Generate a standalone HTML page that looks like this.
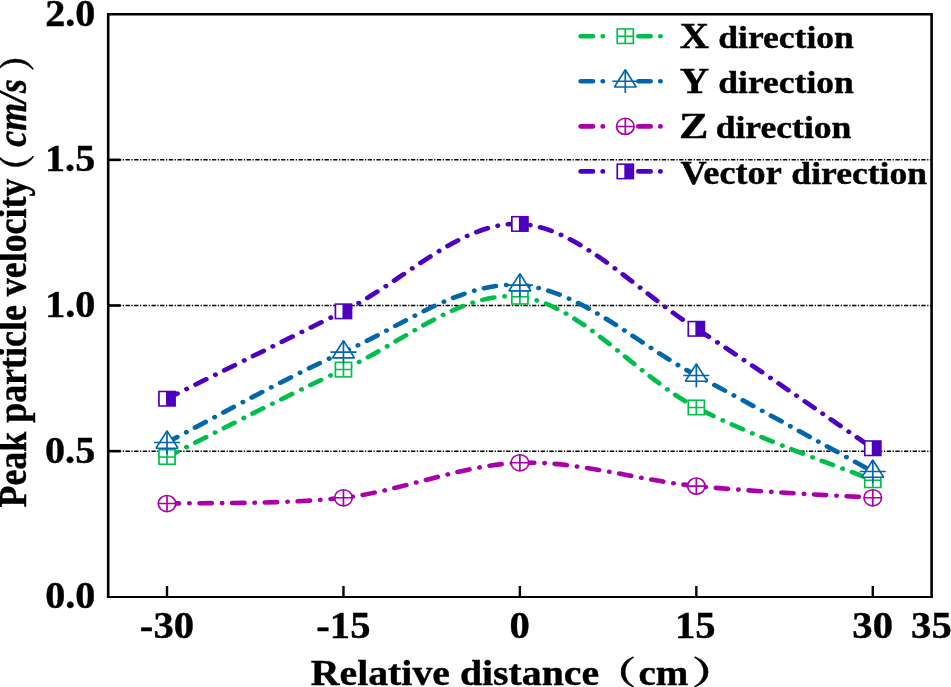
<!DOCTYPE html>
<html><head><meta charset="utf-8"><title>Peak particle velocity</title>
<style>
html,body{margin:0;padding:0;background:#fff;}
body{width:951px;height:687px;overflow:hidden;}
svg{display:block;}
.t{font-family:"Liberation Serif","Noto Serif CJK SC",serif;font-weight:bold;fill:#000;stroke:#000;stroke-width:0.4px;}
.cj{font-family:"Noto Serif CJK SC","Liberation Serif",serif;font-weight:bold;fill:#000;}
</style></head><body>
<svg width="951" height="687" viewBox="0 0 951 687">
<rect width="951" height="687" fill="#fff"/>
<line x1="108.2" y1="451.15" x2="931.6" y2="451.15" stroke="#000" stroke-width="1.5" stroke-dasharray="4.35 1.5 1.3 1.5"/>
<line x1="108.2" y1="305.50" x2="931.6" y2="305.50" stroke="#000" stroke-width="1.5" stroke-dasharray="4.35 1.5 1.3 1.5"/>
<line x1="108.2" y1="159.85" x2="931.6" y2="159.85" stroke="#000" stroke-width="1.5" stroke-dasharray="4.35 1.5 1.3 1.5"/>
<g transform="scale(1.095,1)">
<path d="M152.52,456.98 C179.38,442.41 259.95,396.29 313.66,369.59 C367.37,342.88 421.08,290.45 474.79,296.76 C528.51,303.07 582.22,376.87 635.93,407.45 C689.64,438.04 770.21,468.14 797.06,480.28" fill="none" stroke="#00BE4B" stroke-width="4.6" stroke-linecap="round" stroke-dasharray="10.9 9.6 0.01 9.36"/>
<rect x="145.17" y="449.73" width="14.7" height="14.5" fill="#fff" stroke="#00BE4B" stroke-width="1.55"/><path d="M145.17,456.98H159.87M152.52,449.73V464.23" stroke="#00BE4B" stroke-width="1.55" fill="none"/>
<rect x="306.31" y="362.34" width="14.7" height="14.5" fill="#fff" stroke="#00BE4B" stroke-width="1.55"/><path d="M306.31,369.59H321.01M313.66,362.34V376.84" stroke="#00BE4B" stroke-width="1.55" fill="none"/>
<rect x="467.44" y="289.51" width="14.7" height="14.5" fill="#fff" stroke="#00BE4B" stroke-width="1.55"/><path d="M467.44,296.76H482.14M474.79,289.51V304.01" stroke="#00BE4B" stroke-width="1.55" fill="none"/>
<rect x="628.58" y="400.20" width="14.7" height="14.5" fill="#fff" stroke="#00BE4B" stroke-width="1.55"/><path d="M628.58,407.45H643.28M635.93,400.20V414.70" stroke="#00BE4B" stroke-width="1.55" fill="none"/>
<rect x="789.71" y="473.03" width="14.7" height="14.5" fill="#fff" stroke="#00BE4B" stroke-width="1.55"/><path d="M789.71,480.28H804.41M797.06,473.03V487.53" stroke="#00BE4B" stroke-width="1.55" fill="none"/>
<path d="M152.52,442.41 C179.38,427.36 259.95,378.32 313.66,352.11 C367.37,325.89 421.08,281.22 474.79,285.11 C528.51,288.99 582.22,344.34 635.93,375.41 C689.64,406.48 770.21,455.52 797.06,471.54" fill="none" stroke="#0067AC" stroke-width="4.6" stroke-linecap="round" stroke-dasharray="10.9 9.6 0.01 9.36"/>
<path d="M152.52,430.86L162.52,448.19H142.52Z" fill="#fff" stroke="#0067AC" stroke-width="1.55" stroke-linejoin="bevel"/><path d="M140.62,442.41H164.42M152.52,430.86V454.21" stroke="#0067AC" stroke-width="1.55" fill="none"/>
<path d="M313.66,340.56L323.66,357.88H303.66Z" fill="#fff" stroke="#0067AC" stroke-width="1.55" stroke-linejoin="bevel"/><path d="M301.76,352.11H325.56M313.66,340.56V363.91" stroke="#0067AC" stroke-width="1.55" fill="none"/>
<path d="M474.79,273.56L484.79,290.88H464.79Z" fill="#fff" stroke="#0067AC" stroke-width="1.55" stroke-linejoin="bevel"/><path d="M462.89,285.11H486.69M474.79,273.56V296.91" stroke="#0067AC" stroke-width="1.55" fill="none"/>
<path d="M635.93,363.86L645.93,381.19H625.93Z" fill="#fff" stroke="#0067AC" stroke-width="1.55" stroke-linejoin="bevel"/><path d="M624.03,375.41H647.83M635.93,363.86V387.21" stroke="#0067AC" stroke-width="1.55" fill="none"/>
<path d="M797.06,459.99L807.06,477.32H787.06Z" fill="#fff" stroke="#0067AC" stroke-width="1.55" stroke-linejoin="bevel"/><path d="M785.16,471.54H808.96M797.06,459.99V483.34" stroke="#0067AC" stroke-width="1.55" fill="none"/>
<path d="M152.52,503.58 C179.38,502.61 259.95,504.55 313.66,497.76 C367.37,490.96 421.08,464.74 474.79,462.80 C528.51,460.86 582.22,480.28 635.93,486.11 C689.64,491.93 770.21,495.82 797.06,497.76" fill="none" stroke="#AA00AA" stroke-width="4.6" stroke-linecap="round" stroke-dasharray="10.9 9.6 0.01 9.36"/>
<ellipse cx="152.52" cy="503.58" rx="8.0" ry="8.1" fill="#fff" stroke="#AA00AA" stroke-width="1.55"/><path d="M144.52,503.58H160.52M152.52,495.48V511.68" stroke="#AA00AA" stroke-width="1.55" fill="none"/>
<ellipse cx="313.66" cy="497.76" rx="8.0" ry="8.1" fill="#fff" stroke="#AA00AA" stroke-width="1.55"/><path d="M305.66,497.76H321.66M313.66,489.66V505.86" stroke="#AA00AA" stroke-width="1.55" fill="none"/>
<ellipse cx="474.79" cy="462.80" rx="8.0" ry="8.1" fill="#fff" stroke="#AA00AA" stroke-width="1.55"/><path d="M466.79,462.80H482.79M474.79,454.70V470.90" stroke="#AA00AA" stroke-width="1.55" fill="none"/>
<ellipse cx="635.93" cy="486.11" rx="8.0" ry="8.1" fill="#fff" stroke="#AA00AA" stroke-width="1.55"/><path d="M627.93,486.11H643.93M635.93,478.01V494.21" stroke="#AA00AA" stroke-width="1.55" fill="none"/>
<ellipse cx="797.06" cy="497.76" rx="8.0" ry="8.1" fill="#fff" stroke="#AA00AA" stroke-width="1.55"/><path d="M789.06,497.76H805.06M797.06,489.66V505.86" stroke="#AA00AA" stroke-width="1.55" fill="none"/>
<path d="M152.52,398.72 C179.38,384.15 259.95,340.46 313.66,311.33 C367.37,282.20 421.08,221.02 474.79,223.94 C528.51,226.85 582.22,291.42 635.93,328.80 C689.64,366.19 770.21,428.33 797.06,448.24" fill="none" stroke="#4E00C0" stroke-width="4.6" stroke-linecap="round" stroke-dasharray="10.9 9.6 0.01 9.36"/>
<rect x="145.17" y="391.47" width="14.7" height="14.5" fill="#fff" stroke="#4E00C0" stroke-width="1.55"/><rect x="151.62" y="391.47" width="8.25" height="14.5" fill="#4E00C0"/>
<rect x="306.31" y="304.08" width="14.7" height="14.5" fill="#fff" stroke="#4E00C0" stroke-width="1.55"/><rect x="312.76" y="304.08" width="8.25" height="14.5" fill="#4E00C0"/>
<rect x="467.44" y="216.69" width="14.7" height="14.5" fill="#fff" stroke="#4E00C0" stroke-width="1.55"/><rect x="473.89" y="216.69" width="8.25" height="14.5" fill="#4E00C0"/>
<rect x="628.58" y="321.55" width="14.7" height="14.5" fill="#fff" stroke="#4E00C0" stroke-width="1.55"/><rect x="635.03" y="321.55" width="8.25" height="14.5" fill="#4E00C0"/>
<rect x="789.71" y="440.99" width="14.7" height="14.5" fill="#fff" stroke="#4E00C0" stroke-width="1.55"/><rect x="796.16" y="440.99" width="8.25" height="14.5" fill="#4E00C0"/>
</g>
<path d="M108.2,597.95V14.2H931.6V597.95" fill="none" stroke="#000" stroke-width="2.6" stroke-linejoin="miter"/>
<line x1="106.9" y1="596.95" x2="932.9" y2="596.95" stroke="#000" stroke-width="2.0"/>
<line x1="167.01" y1="596.8" x2="167.01" y2="586" stroke="#000" stroke-width="2.4"/>
<line x1="343.46" y1="596.8" x2="343.46" y2="586" stroke="#000" stroke-width="2.4"/>
<line x1="519.90" y1="596.8" x2="519.90" y2="586" stroke="#000" stroke-width="2.4"/>
<line x1="696.34" y1="596.8" x2="696.34" y2="586" stroke="#000" stroke-width="2.4"/>
<line x1="872.79" y1="596.8" x2="872.79" y2="586" stroke="#000" stroke-width="2.4"/>
<line x1="108.2" y1="451.15" x2="120.7" y2="451.15" stroke="#000" stroke-width="2.6"/>
<line x1="108.2" y1="305.50" x2="120.7" y2="305.50" stroke="#000" stroke-width="2.6"/>
<line x1="108.2" y1="159.85" x2="120.7" y2="159.85" stroke="#000" stroke-width="2.6"/>
<g transform="scale(1.095,1)"><path d="M530.41,36.2H541.46M550.50,36.2h0.01M583.11,36.2H594.06M603.11,36.2h0.01" stroke="#00BE4B" stroke-width="4.6" stroke-linecap="round" fill="none"/>
<rect x="563.70" y="28.95" width="14.7" height="14.5" fill="#fff" stroke="#00BE4B" stroke-width="1.55"/><path d="M563.70,36.20H578.40M571.05,28.95V43.45" stroke="#00BE4B" stroke-width="1.55" fill="none"/></g>
<g transform="scale(1.095,1)"><path d="M530.41,81.3H541.46M550.50,81.3h0.01M583.11,81.3H594.06M603.11,81.3h0.01" stroke="#0067AC" stroke-width="4.6" stroke-linecap="round" fill="none"/>
<path d="M571.05,69.75L581.05,87.08H561.05Z" fill="#fff" stroke="#0067AC" stroke-width="1.55" stroke-linejoin="bevel"/><path d="M559.15,81.30H582.95M571.05,69.75V93.10" stroke="#0067AC" stroke-width="1.55" fill="none"/></g>
<g transform="scale(1.095,1)"><path d="M530.41,126.4H541.46M550.50,126.4h0.01M583.11,126.4H594.06M603.11,126.4h0.01" stroke="#AA00AA" stroke-width="4.6" stroke-linecap="round" fill="none"/>
<ellipse cx="571.05" cy="126.40" rx="8.0" ry="8.1" fill="#fff" stroke="#AA00AA" stroke-width="1.55"/><path d="M563.05,126.40H579.05M571.05,118.30V134.50" stroke="#AA00AA" stroke-width="1.55" fill="none"/></g>
<g transform="scale(1.095,1)"><path d="M530.41,171.4H541.46M550.50,171.4h0.01M583.11,171.4H594.06M603.11,171.4h0.01" stroke="#4E00C0" stroke-width="4.6" stroke-linecap="round" fill="none"/>
<rect x="563.70" y="164.15" width="14.7" height="14.5" fill="#fff" stroke="#4E00C0" stroke-width="1.55"/><rect x="570.15" y="164.15" width="8.25" height="14.5" fill="#4E00C0"/></g>
<text class="t"><tspan x="679.69" y="47.80" font-size="36.20" textLength="29.20" lengthAdjust="spacingAndGlyphs">X</tspan> <tspan x="718.28" y="47.80" font-size="31.80" textLength="135.54" lengthAdjust="spacingAndGlyphs">direction</tspan></text>
<text class="t"><tspan x="679.69" y="92.80" font-size="36.20" textLength="29.41" lengthAdjust="spacingAndGlyphs">Y</tspan> <tspan x="718.28" y="92.80" font-size="31.80" textLength="135.54" lengthAdjust="spacingAndGlyphs">direction</tspan></text>
<text class="t"><tspan x="678.90" y="137.80" font-size="36.20" textLength="29.39" lengthAdjust="spacingAndGlyphs">Z</tspan> <tspan x="715.68" y="137.80" font-size="31.80" textLength="135.74" lengthAdjust="spacingAndGlyphs">direction</tspan></text>
<text class="t"><tspan x="680.54" y="183.70" font-size="32.80" textLength="101.18" lengthAdjust="spacingAndGlyphs">Vector</tspan> <tspan x="791.38" y="183.70" font-size="31.80" textLength="135.54" lengthAdjust="spacingAndGlyphs">direction</tspan></text>
<text class="t"><tspan x="45.28" y="608.40" font-size="37.30" textLength="50.12" lengthAdjust="spacingAndGlyphs">0.0</tspan></text>
<text class="t"><tspan x="45.08" y="462.75" font-size="37.30" textLength="50.12" lengthAdjust="spacingAndGlyphs">0.5</tspan></text>
<text class="t"><tspan x="45.28" y="317.10" font-size="37.30" textLength="50.12" lengthAdjust="spacingAndGlyphs">1.0</tspan></text>
<text class="t"><tspan x="45.08" y="171.45" font-size="37.30" textLength="50.12" lengthAdjust="spacingAndGlyphs">1.5</tspan></text>
<text class="t"><tspan x="45.28" y="25.80" font-size="37.30" textLength="50.12" lengthAdjust="spacingAndGlyphs">2.0</tspan></text>
<text class="t"><tspan x="139.88" y="637.80" font-size="37.30" textLength="54.20" lengthAdjust="spacingAndGlyphs">-30</tspan></text>
<text class="t"><tspan x="316.32" y="637.80" font-size="37.30" textLength="54.20" lengthAdjust="spacingAndGlyphs">-15</tspan></text>
<text class="t"><tspan x="509.64" y="637.80" font-size="37.30" textLength="20.33" lengthAdjust="spacingAndGlyphs">0</tspan></text>
<text class="t"><tspan x="675.00" y="637.80" font-size="37.30" textLength="40.66" lengthAdjust="spacingAndGlyphs">15</tspan></text>
<text class="t"><tspan x="852.36" y="637.80" font-size="37.30" textLength="40.66" lengthAdjust="spacingAndGlyphs">30</tspan></text>
<text class="t"><tspan x="911.07" y="637.80" font-size="37.30" textLength="40.66" lengthAdjust="spacingAndGlyphs">35</tspan></text>
<text class="t"><tspan x="310.80" y="685.00" font-size="36.00" textLength="288.33" lengthAdjust="spacingAndGlyphs">Relative distance</tspan> <tspan x="594.11" y="684.42" font-size="31.96" textLength="42.17" lengthAdjust="spacingAndGlyphs" class="cj">（</tspan><tspan x="638.53" y="685.00" font-size="36.00" textLength="49.82" lengthAdjust="spacingAndGlyphs">cm</tspan><tspan x="691.86" y="684.42" font-size="31.96" textLength="45.67" lengthAdjust="spacingAndGlyphs" class="cj">）</tspan></text>
<text class="t" transform="translate(25.6,507.0) rotate(-90) scale(1,1.1)"><tspan x="-0.54" y="0.00" font-size="36.00" textLength="328.95" lengthAdjust="spacingAndGlyphs">Peak particle velocity</tspan> <tspan x="317.90" y="4.19" font-size="34.25" textLength="35.00" lengthAdjust="spacingAndGlyphs" class="cj">（</tspan> <tspan x="360.26" y="0.00" font-size="36.00" textLength="67.77" lengthAdjust="spacingAndGlyphs" font-style="italic">cm/s</tspan> <tspan x="435.40" y="4.03" font-size="34.05" textLength="35.00" lengthAdjust="spacingAndGlyphs" class="cj">）</tspan></text>
</svg>
</body></html>
